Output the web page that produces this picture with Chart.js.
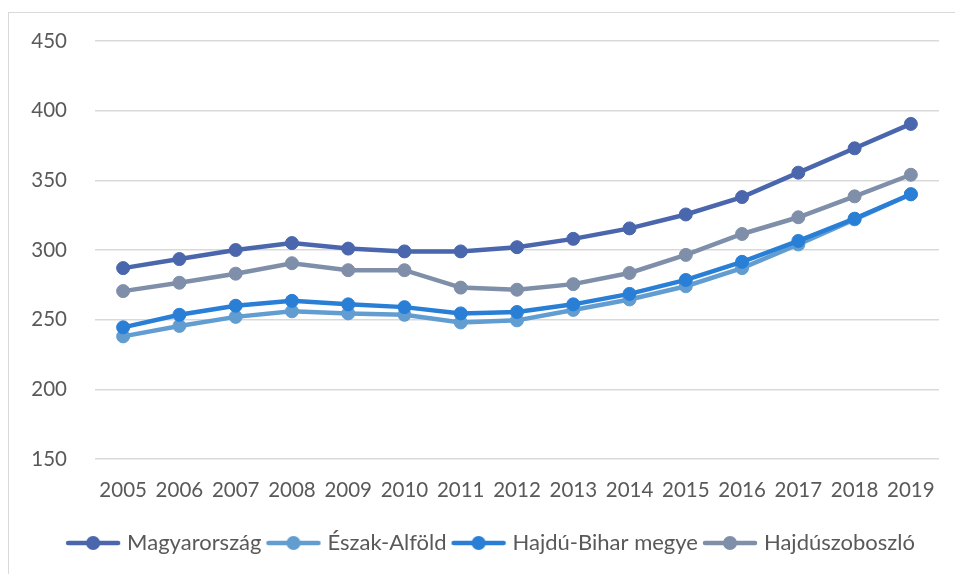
<!DOCTYPE html>
<html>
<head>
<meta charset="utf-8">
<script src="https://cdn.jsdelivr.net/npm/chart.js@4"></script>
<style>
  html, body { margin: 0; padding: 0; background: #fff; overflow: hidden; }
  #frame { position: absolute; left: 8px; top: 12px; width: 1000px; height: 700px; border: 1px solid #d9d9d9; }
  #wrap { position: absolute; left: 0; top: 0; width: 955px; height: 574px; }
</style>
</head>
<body>
<div id="frame"></div>
<div id="wrap"><canvas id="lineChart"></canvas></div>
<script>
// Data
const years = ['2005', '2006', '2007', '2008', '2009', '2010', '2011', '2012', '2013', '2014', '2015', '2016', '2017', '2018', '2019'];
const seriesNames = ['Magyarország', 'Észak-Alföld', 'Hajdú-Bihar megye', 'Hajdúszoboszló'];
const magyarorszag = [287, 293.5, 300, 305, 301, 299, 299, 302, 308, 315.5, 325.5, 338, 355.5, 373, 390.5];
const eszakAlfold = [238, 245.5, 252, 256, 254.5, 253.5, 248, 249.5, 257, 264.5, 274, 287, 304, 322, 340];
const hajduBihar = [244.5, 253.5, 260, 263.5, 261, 259, 254.5, 255.5, 261, 268.5, 278.5, 291.5, 306.5, 322.5, 340];
const hajduszoboszlo = [270.5, 276.5, 283, 290.5, 285.5, 285.5, 273, 271.5, 275.5, 283.5, 296.5, 311.5, 323.5, 338.5, 354];
const yTicks = [150, 200, 250, 300, 350, 400, 450];

const colors = ['#4a66ac', '#629dd1', '#297fd5', '#7f8fa9'];
const seriesData = [magyarorszag, eszakAlfold, hajduBihar, hajduszoboszlo];

// small line + marker icon for the legend
function legendIcon(color) {
    const c = document.createElement('canvas');
    c.width = 56;
    c.height = 16;
    const g = c.getContext('2d');
    g.strokeStyle = color;
    g.lineWidth = 4.5;
    g.lineCap = 'round';
    g.beginPath();
    g.moveTo(3, 8);
    g.lineTo(53, 8);
    g.stroke();
    g.fillStyle = color;
    g.beginPath();
    g.arc(28, 8, 7, 0, Math.PI * 2);
    g.fill();
    return c;
}

// move the centred legend a bit to the right, as in the original
const legendShift = {
    id: 'legendShift',
    afterLayout(chart) {
        if (chart.legend) {
            chart.legend.left += 23;
            chart.legend.right += 23;
        }
    }
};

document.addEventListener("DOMContentLoaded", function() {
    const ctx = document.getElementById('lineChart');

    Chart.defaults.font.family = 'Lato, "Open Sans", sans-serif';
    Chart.defaults.color = '#595959';

    new Chart(ctx, {
        type: 'line',
        data: {
            labels: years,
            datasets: seriesNames.map((name, i) => ({
                label: name,
                data: seriesData[i],
                borderColor: colors[i],
                backgroundColor: colors[i],
                pointBackgroundColor: colors[i],
                pointBorderColor: colors[i],
                borderWidth: 4.5,
                pointRadius: 6.5,
                pointBorderWidth: 1,
                tension: 0,
                order: 4 - i // later series drawn on top, like the original
            }))
        },
        plugins: [legendShift],
        options: {
            responsive: true,
            maintainAspectRatio: false,
            animation: false,
            layout: {
                padding: { top: 41, right: 16, bottom: 10, left: 0 }
            },
            plugins: {
                tooltip: { enabled: false },
                legend: {
                    position: 'bottom',
                    labels: {
                        usePointStyle: true,
                        pointStyleWidth: 46,
                        padding: 9,
                        font: { size: 22 },
                        color: '#595959',
                        generateLabels: function() {
                            return seriesNames.map((name, i) => ({
                                text: name,
                                pointStyle: legendIcon(colors[i]),
                                fillStyle: colors[i],
                                strokeStyle: colors[i],
                                lineWidth: 0,
                                hidden: false,
                                datasetIndex: i,
                                fontColor: '#595959'
                            }));
                        }
                    }
                }
            },
            scales: {
                x: {
                    offset: true,
                    grid: { display: false },
                    border: { display: false },
                    ticks: {
                        padding: 11,
                        font: { size: 20.5 },
                        color: '#595959',
                        maxRotation: 0,
                        autoSkip: false
                    },
                    afterFit: function(scale) { scale.height = 64; }
                },
                y: {
                    min: 150,
                    max: 450,
                    afterBuildTicks: function(scale) {
                        scale.ticks = yTicks.map(v => ({ value: v }));
                    },
                    grid: {
                        color: '#d9d9d9',
                        lineWidth: 1.5,
                        drawTicks: false
                    },
                    border: { display: false },
                    ticks: {
                        padding: 28,
                        font: { size: 20.5 },
                        color: '#595959'
                    },
                    afterFit: function(scale) { scale.width = 95; }
                }
            }
        }
    });
});
</script>
</body>
</html>
